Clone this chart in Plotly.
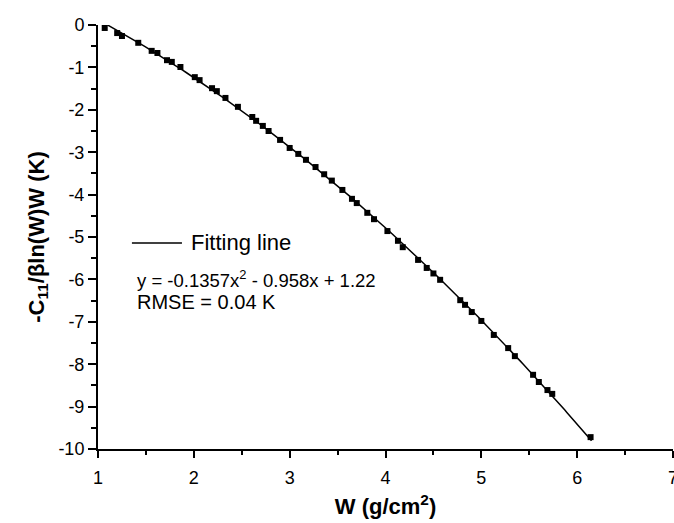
import numpy as np
import plotly.graph_objects as go

# Measured points: areal density W (g/cm^2) and -C11/(beta ln(W) W) (K)
w_values = [1.07, 1.20, 1.25, 1.42, 1.56, 1.62, 1.72, 1.77, 1.86, 2.01, 2.06, 2.19, 2.24,
            2.33, 2.46, 2.61, 2.65, 2.72, 2.78, 2.90, 3.00, 3.09, 3.17, 3.27, 3.36, 3.44,
            3.55, 3.65, 3.70, 3.81, 3.88, 4.02, 4.13, 4.18, 4.34, 4.43, 4.50, 4.57,
            4.78, 4.83, 4.90, 5.00, 5.13, 5.28, 5.35, 5.54, 5.60, 5.69, 5.74, 6.14]
c_values = [-0.07, -0.19, -0.26, -0.42, -0.61, -0.66, -0.83, -0.87, -0.99, -1.23, -1.30, -1.49, -1.56,
            -1.72, -1.93, -2.17, -2.26, -2.38, -2.50, -2.71, -2.90, -3.04, -3.18, -3.35, -3.52, -3.67,
            -3.89, -4.10, -4.20, -4.43, -4.58, -4.86, -5.09, -5.24, -5.54, -5.73, -5.86, -6.01,
            -6.49, -6.60, -6.77, -6.98, -7.31, -7.62, -7.81, -8.25, -8.42, -8.61, -8.70, -9.72]

# Quadratic fit coefficients (y = a x^2 + b x + c)
fit_coeffs = [-0.1357, -0.958, 1.22]
fit_range = [1.07, 6.15]

x_ticks = [1, 2, 3, 4, 5, 6, 7]
y_ticks = [0, -1, -2, -3, -4, -5, -6, -7, -8, -9, -10]

x_fit = np.linspace(fit_range[0], fit_range[1], 200)
y_fit = np.polyval(fit_coeffs, x_fit)

FONT = "Arial, 'Liberation Sans', sans-serif"

fig = go.Figure()
fig.add_trace(go.Scatter(
    x=x_fit, y=y_fit, mode="lines",
    line=dict(color="black", width=1.5),
    name="Fitting line", showlegend=False,
))
fig.add_trace(go.Scatter(
    x=w_values, y=c_values, mode="markers",
    marker=dict(symbol="square", size=6, color="black"),
    showlegend=False, cliponaxis=False,
))

axis_common = dict(
    showgrid=False, zeroline=False, showline=True,
    linecolor="black", linewidth=2,
    ticks="outside", tickcolor="black", tickwidth=2,
    tickfont=dict(family=FONT, size=18, color="black"),
    ticklabeloverflow="allow", automargin=False,
)

fig.update_xaxes(
    range=[1, 7], tickvals=x_ticks, ticktext=[str(v) for v in x_ticks], ticklen=7,
    ticklabelstandoff=4,
    minor=dict(dtick=0.5, tick0=1, ticks="outside", ticklen=4, tickwidth=2, tickcolor="black"),
    title=dict(text="<b>W (g/cm<sup>2</sup>)</b>", font=dict(family=FONT, size=22, color="black"),
               standoff=12),
    **axis_common,
)
fig.update_yaxes(
    range=[-10, 0], tickvals=y_ticks, ticktext=[str(v) for v in y_ticks], ticklen=8,
    minor=dict(dtick=0.5, tick0=0, ticks="outside", ticklen=5, tickwidth=2, tickcolor="black"),
    title=dict(text="<b>-C<sub>11</sub>/βln(W)W (K)</b>", font=dict(family=FONT, size=22, color="black"),
               standoff=8),
    **axis_common,
)

# Legend key for the fitted curve
fig.add_shape(type="line", xref="paper", yref="paper",
              x0=0.059, x1=0.146, y0=0.486, y1=0.486,
              line=dict(color="black", width=1.5))
fig.add_annotation(xref="paper", yref="paper", x=0.158, y=0.486,
                   text="Fitting line", showarrow=False, xanchor="left", yanchor="middle",
                   font=dict(family=FONT, size=22, color="black"))
a, b, c = fit_coeffs
fig.add_annotation(xref="paper", yref="paper", x=0.064, y=0.402,
                   text=f"y = {a:.4f}x<sup>2</sup> - {abs(b):.3f}x + {c:.2f}",
                   showarrow=False, xanchor="left", yanchor="middle",
                   font=dict(family=FONT, size=18.5, color="black"))
fig.add_annotation(xref="paper", yref="paper", x=0.064, y=0.347,
                   text="RMSE = 0.04 K", showarrow=False, xanchor="left", yanchor="middle",
                   font=dict(family=FONT, size=20, color="black"))

fig.update_layout(
    width=674, height=523,
    margin=dict(l=98, r=1, t=25, b=74),
    plot_bgcolor="white", paper_bgcolor="white",
)

fig.write_html("out.html")
